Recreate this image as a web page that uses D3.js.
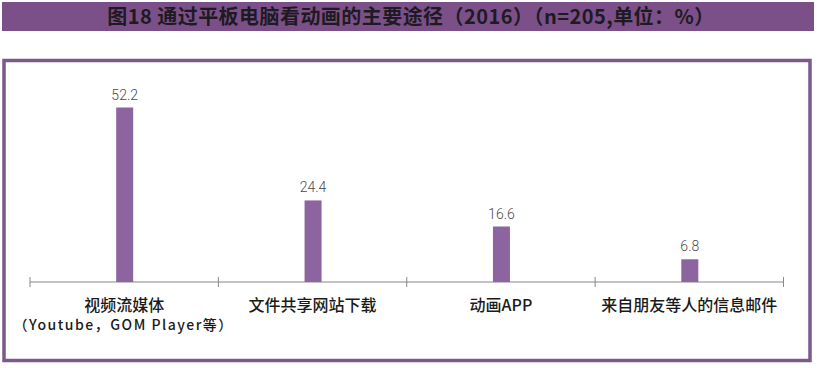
<!DOCTYPE html>
<html><head><meta charset="utf-8">
<script src="https://cdn.jsdelivr.net/npm/d3@7"></script>
<style>body{margin:0;background:#fff}svg{display:block}</style>
</head><body>
<script>
const categories = ["视频流媒体", "文件共享网站下载", "动画APP", "来自朋友等人的信息邮件"];
const subLabels = ["（Youtube，GOM Player等）", "", "", ""];
const values = [52.2, 24.4, 16.6, 6.8];
const valueLabels = ["52.2", "24.4", "16.6", "6.8"];
const title = "图18 通过平板电脑看动画的主要途径（2016）（n=205,单位：%）";

const W = 817, H = 368;
const svg = d3.select("body").append("svg").attr("width", W).attr("height", H);

// title band
svg.append("rect").attr("x", 2).attr("y", 2).attr("width", 812).attr("height", 29).attr("fill", "#7b5089");
svg.append("text").attr("x", 411).attr("y", 24).attr("text-anchor", "middle")
  .attr("font-family", "Noto Sans CJK SC").attr("font-weight", "bold").attr("font-size", 20)
  .attr("letter-spacing", 0.45)
  .attr("fill", "#1e1a22").text(title);

// frame
svg.append("rect").attr("x", 4).attr("y", 60.5).attr("width", 806).attr("height", 300)
  .attr("fill", "none").attr("stroke", "#7a5a88").attr("stroke-width", 3.5);

const axisY = 282;
const x = d3.scaleBand().domain(categories).range([30, 783.5]).padding(0);
const y = d3.scaleLinear().domain([0, 52.2]).range([axisY, 107.5]);
const barW = 17;

// axis
const g = svg.append("g").attr("transform", `translate(0,${axisY})`);
g.append("line").attr("x1", x.range()[0]).attr("x2", x.range()[1]).attr("stroke", "#8a8590").attr("stroke-width", 1.2);
const tickPos = categories.map(c => x(c)).concat([x.range()[1]]);
g.selectAll("line.tick").data(tickPos).join("line").attr("class", "tick")
  .attr("x1", d => d).attr("x2", d => d).attr("y1", -5).attr("y2", 5)
  .attr("stroke", "#8a8590").attr("stroke-width", 1);

// bars
svg.selectAll("rect.bar").data(values).join("rect").attr("class", "bar")
  .attr("x", (d, i) => x(categories[i]) + x.bandwidth() / 2 - barW / 2 + 0.5)
  .attr("y", d => y(d)).attr("width", barW).attr("height", d => axisY - y(d))
  .attr("fill", "#8c64a0");

// value labels
svg.selectAll("text.val").data(values).join("text").attr("class", "val")
  .attr("x", (d, i) => x(categories[i]) + x.bandwidth() / 2 + 0.5)
  .attr("y", d => y(d) - 8).attr("text-anchor", "middle")
  .attr("font-family", "Roboto").attr("font-weight", 300).attr("font-size", 14)
  .attr("fill", "#4a4a4a").text((d, i) => valueLabels[i]);

// category labels
svg.selectAll("text.cat").data(categories).join("text").attr("class", "cat")
  .attr("x", d => x(d) + x.bandwidth() / 2).attr("y", 311).attr("text-anchor", "middle")
  .attr("font-family", "Noto Sans CJK SC").attr("font-weight", 500).attr("font-size", 16)
  .attr("fill", "#1a1a1a").text(d => d);
svg.selectAll("text.sub").data(subLabels).join("text").attr("class", "sub")
  .attr("x", (d, i) => x(categories[i]) + x.bandwidth() / 2 - 0.5).attr("y", 330).attr("text-anchor", "middle")
  .attr("font-family", "Noto Sans CJK SC").attr("font-weight", 500).attr("font-size", 14)
  .attr("letter-spacing", 1.5)
  .attr("fill", "#1a1a1a").text(d => d);
</script>
</body></html>
